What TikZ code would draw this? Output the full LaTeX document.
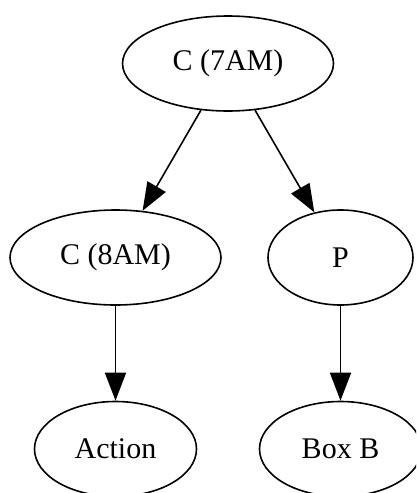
\documentclass[tikz,border=0pt]{standalone}
\usepackage{fontspec}
\setmainfont{Liberation Serif}
\usetikzlibrary{shapes.geometric,arrows.meta}
\tikzset{
  state/.style={ellipse, draw, line width=1.6pt, inner sep=0pt,
    font=\fontsize{30}{32}\selectfont},
  wide/.style={state, minimum width=211pt, minimum height=95pt},
  narrow/.style={state, minimum width=145pt, minimum height=95pt},
  leaf/.style={state, minimum width=162pt, minimum height=95pt},
  edge/.style={line width=1.6pt, -{Triangle[length=28pt,width=21pt]}}
}
\begin{document}
\begin{tikzpicture}[x=1pt,y=-1pt]
  \useasboundingbox (0,0) rectangle (416,493);
  \clip (0,0) rectangle (416,493);
  \node[wide]   (c7)     at (228,63.5)  {C (7AM)};
  \node[wide]   (c8)     at (115.5,257.5) {C (8AM)};
  \node[narrow] (p)      at (340.5,257.5) {P};
  \node[leaf]   (action) at (115.5,449)   {Action};
  \node[leaf]   (boxb)   at (340.5,449)   {Box B};
  \draw[edge] (c7) -- (c8);
  \draw[edge] (c7) -- (p);
  \draw[edge] (c8) -- (action);
  \draw[edge] (p) -- (boxb);
\end{tikzpicture}
\end{document}
